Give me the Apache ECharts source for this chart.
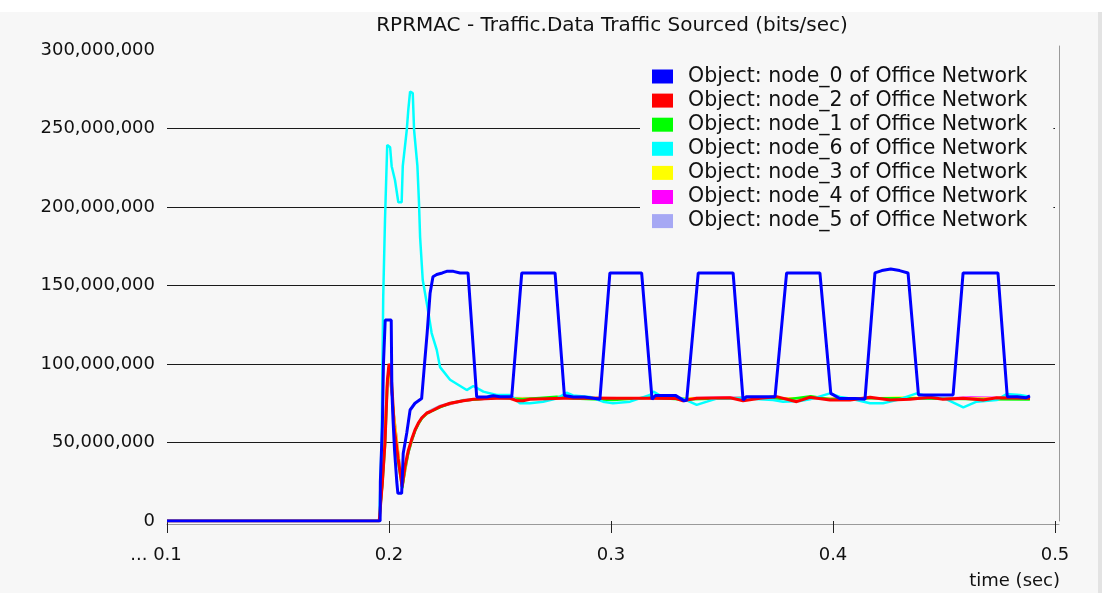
<!DOCTYPE html>
<html>
<head>
<meta charset="utf-8">
<title>RPRMAC - Traffic.Data Traffic Sourced</title>
<script src="https://cdn.jsdelivr.net/npm/echarts@6/dist/echarts.min.js"></script>
<style>
  html, body { margin: 0; padding: 0; background: #f7f7f7; }
  #chart { width: 1102px; height: 593px; }
</style>
</head>
<body>
<div id="chart"></div>
<script>
// Data Traffic Sourced per node, [time (s), Mbit/s]
const node0 = [
  [0.1000, 0], [0.1960, 0], [0.1961, 25], [0.1968, 25], [0.1970, 60], [0.1975, 100],
  [0.1983, 128], [0.2010, 128], [0.2013, 83], [0.2018, 65], [0.2025, 45], [0.2035, 25],
  [0.2040, 17.6], [0.2057, 17.6], [0.2064, 43], [0.2080, 56], [0.2095, 70.7], [0.2117, 75],
  [0.2147, 78], [0.2160, 100], [0.2172, 120], [0.2185, 145], [0.2198, 155.6], [0.2215, 157],
  [0.2240, 158], [0.2260, 159], [0.2290, 159], [0.2320, 158], [0.2356, 158], [0.2395, 79],
  [0.2440, 79], [0.2470, 79.8], [0.2500, 79.2], [0.2553, 79.2], [0.2598, 158], [0.2748, 158],
  [0.2790, 80], [0.2830, 79], [0.2880, 79], [0.2930, 78], [0.2950, 77.5], [0.2995, 158],
  [0.3138, 158], [0.3185, 77.5], [0.3200, 80], [0.3290, 80], [0.3330, 76.5], [0.3341, 77],
  [0.3393, 158], [0.3550, 158], [0.3595, 77], [0.3610, 79.2], [0.3739, 79.2], [0.3791, 158],
  [0.3941, 158], [0.3990, 81.3], [0.4030, 78], [0.4100, 78], [0.4144, 77.5], [0.4189, 158],
  [0.4220, 159.5], [0.4260, 160.5], [0.4300, 159.5], [0.4338, 158], [0.4385, 80.3], [0.4541, 80.3],
  [0.4586, 158], [0.4743, 158], [0.4785, 79.2], [0.4830, 79.2], [0.4870, 78.5], [0.4887, 79.7]
];
const node2 = [
  [0.1000, 0], [0.1956, 0], [0.1971, 26], [0.1982, 50], [0.1993, 90], [0.2000, 100],
  [0.2007, 98], [0.2016, 79], [0.2023, 60], [0.2041, 40], [0.2059, 22], [0.2072, 35],
  [0.2087, 45], [0.2102, 52], [0.2117, 58], [0.2132, 62.4], [0.2147, 65.6], [0.2170, 68.8],
  [0.2185, 69.6], [0.2230, 72.8], [0.2275, 75], [0.2335, 76.6], [0.2380, 77.5], [0.2485, 78.2],
  [0.2545, 78.2], [0.2577, 76.6], [0.2604, 76.6], [0.2635, 77.5], [0.2784, 78.2], [0.2950, 78.2],
  [0.3176, 78.2], [0.3293, 78], [0.3324, 76.6], [0.3386, 78.2], [0.3536, 78.5], [0.3595, 76.6],
  [0.3671, 78.2], [0.3746, 79.2], [0.3836, 76], [0.3896, 78.8], [0.3986, 77.1], [0.4077, 77.1],
  [0.4167, 78.8], [0.4257, 77.1], [0.4347, 77.5], [0.4437, 78.8], [0.4495, 77.5], [0.4586, 78.2],
  [0.4676, 77.1], [0.4737, 78.5], [0.4887, 78.2]
];
const node1 = [
  [0.1000, 0], [0.1956, 0], [0.1971, 25], [0.1982, 48], [0.1993, 88], [0.2000, 98],
  [0.2008, 96], [0.2016, 78], [0.2023, 58], [0.2041, 38], [0.2060, 21], [0.2073, 34],
  [0.2088, 44], [0.2103, 51.5], [0.2118, 57.5], [0.2133, 62], [0.2148, 65.3], [0.2171, 68.6],
  [0.2232, 72.6], [0.2277, 75], [0.2337, 76.8], [0.2485, 78.6], [0.2600, 77.6], [0.2755, 79.2],
  [0.2830, 78], [0.3010, 77], [0.3176, 78.6], [0.3324, 77.4], [0.3536, 78.2], [0.3671, 78.6],
  [0.3800, 77.5], [0.3900, 79.4], [0.3986, 77.6], [0.4167, 78.2], [0.4347, 78.2], [0.4500, 77.8],
  [0.4676, 77.5], [0.4887, 77.4]
];
const node6 = [
  [0.1000, 0], [0.1956, 0], [0.1962, 26], [0.1967, 52], [0.1974, 143], [0.1982, 192],
  [0.1992, 239.5], [0.2005, 238], [0.2012, 226], [0.2027, 217], [0.2042, 203], [0.2057, 203],
  [0.2062, 226], [0.2080, 249], [0.2087, 262], [0.2095, 273.5], [0.2107, 272.5], [0.2113, 249],
  [0.2128, 226], [0.2135, 203], [0.2140, 181], [0.2152, 153.5], [0.2173, 136.5], [0.2192, 119.7],
  [0.2215, 109], [0.2230, 98], [0.2275, 90], [0.2350, 83.4], [0.2380, 86], [0.2425, 82.4],
  [0.2485, 80.3], [0.2545, 80.3], [0.2590, 75], [0.2635, 75], [0.2694, 76], [0.2755, 78],
  [0.2800, 81.7], [0.2829, 80], [0.2905, 79], [0.2964, 76], [0.3009, 75], [0.3086, 76],
  [0.3176, 80.3], [0.3191, 82.4], [0.3234, 79], [0.3324, 78], [0.3386, 74], [0.3432, 76],
  [0.3476, 78], [0.3536, 78], [0.3595, 78.2], [0.3730, 77], [0.3775, 76], [0.3851, 76.5],
  [0.3896, 77.5], [0.3986, 81.3], [0.4032, 79], [0.4077, 78], [0.4167, 75], [0.4225, 75],
  [0.4287, 77], [0.4377, 81.3], [0.4437, 79], [0.4512, 77.5], [0.4587, 72.4], [0.4647, 76],
  [0.4737, 77], [0.4782, 80.9], [0.4842, 80.3], [0.4887, 79.2]
];
const node3 = [
  [0.1000, 0], [0.1956, 0], [0.1971, 25], [0.1990, 88], [0.2000, 97], [0.2016, 77],
  [0.2060, 21], [0.2088, 44], [0.2118, 57.8], [0.2148, 65.5], [0.2185, 69.8], [0.2232, 73],
  [0.2337, 76.8], [0.2485, 78.4], [0.2700, 78], [0.2900, 78.6], [0.3100, 78], [0.3400, 78.4],
  [0.3700, 78], [0.3896, 78.4], [0.4100, 77.8], [0.4320, 78.8], [0.4500, 78], [0.4700, 78.2],
  [0.4887, 78]
];
const node4 = [
  [0.1000, 0], [0.1956, 0], [0.1971, 24], [0.1990, 86], [0.2000, 96], [0.2016, 76],
  [0.2060, 21], [0.2088, 43.5], [0.2118, 57.5], [0.2148, 65.4], [0.2185, 69.6], [0.2232, 72.8],
  [0.2337, 76.6], [0.2485, 78.3], [0.2700, 78.2], [0.2950, 78.5], [0.3200, 78], [0.3500, 78.6],
  [0.3800, 78.2], [0.4000, 78], [0.4250, 78.4], [0.4450, 77.9], [0.4620, 78.8], [0.4700, 78.6],
  [0.4887, 78.1]
];
const node5 = [
  [0.1000, 0], [0.1956, 0], [0.1971, 24], [0.1990, 85], [0.2000, 95], [0.2016, 76],
  [0.2060, 22], [0.2088, 45], [0.2118, 58.5], [0.2148, 66.2], [0.2185, 70.4], [0.2232, 73.6],
  [0.2337, 77.2], [0.2485, 78.5], [0.2700, 78.3], [0.3000, 78.4], [0.3300, 78.2], [0.3600, 78.4],
  [0.3900, 78.2], [0.4200, 78.4], [0.4500, 78.2], [0.4887, 78.3]
];

const xTickLabels = ['... 0.1', '0.2', '0.3', '0.4', '0.5'];
const yTickLabels = ['0', '50,000,000', '100,000,000', '150,000,000', '200,000,000', '250,000,000', '300,000,000'];

const FONT = 'DejaVu Sans';
const TEXT = '#111111';

// drawing order: first is drawn at the back
const seriesDefs = [
  { name: 'Object: node_5 of Office Network', data: node5, color: '#a6a8f4', width: 2 },
  { name: 'Object: node_4 of Office Network', data: node4, color: '#ff00ff', width: 2 },
  { name: 'Object: node_3 of Office Network', data: node3, color: '#ffff00', width: 2 },
  { name: 'Object: node_1 of Office Network', data: node1, color: '#00ff00', width: 2.5 },
  { name: 'Object: node_6 of Office Network', data: node6, color: '#00ffff', width: 2.5 },
  { name: 'Object: node_2 of Office Network', data: node2, color: '#ff0000', width: 3 },
  { name: 'Object: node_0 of Office Network', data: node0, color: '#0000ff', width: 3 }
];

const legendOrder = [
  'Object: node_0 of Office Network',
  'Object: node_2 of Office Network',
  'Object: node_1 of Office Network',
  'Object: node_6 of Office Network',
  'Object: node_3 of Office Network',
  'Object: node_4 of Office Network',
  'Object: node_5 of Office Network'
];

const chart = echarts.init(document.getElementById('chart'), null, { renderer: 'canvas' });

chart.setOption({
  animation: false,
  backgroundColor: '#f7f7f7',
  textStyle: { fontFamily: FONT },
  title: [
    {
      text: 'RPRMAC - Traffic.Data Traffic Sourced (bits/sec)',
      left: 612, top: 16, textAlign: 'center', padding: 0,
      textStyle: { fontFamily: FONT, fontSize: 20, fontWeight: 'normal', color: TEXT }
    },
    {
      text: 'time (sec)',
      right: 42, top: 572, padding: 0,
      textStyle: { fontFamily: FONT, fontSize: 18, fontWeight: 'normal', color: TEXT }
    }
  ],
  legend: {
    data: legendOrder,
    orient: 'vertical',
    left: 640, top: 61,
    padding: [5, 26, 4, 12],
    itemWidth: 21, itemHeight: 14, itemGap: 3.1,
    icon: 'rect',
    backgroundColor: '#f7f7f7',
    selectedMode: false,
    textStyle: { fontFamily: FONT, fontSize: 20.5, lineHeight: 20.5, color: TEXT, padding: [0, 0, 0, 10] }
  },
  grid: [
    { left: 167, right: 47, top: 50, bottom: 72 },
    { left: 167, right: 43, top: 46, bottom: 72 }
  ],
  xAxis: [
    {
      gridIndex: 0, type: 'value', min: 0.1, max: 0.5, interval: 0.1,
      offset: 7,
      axisLine: { show: false },
      axisTick: { show: true, length: 12, lineStyle: { color: '#222', width: 1 } },
      splitLine: { show: false },
      axisLabel: {
        margin: 18, fontFamily: FONT, fontSize: 18, color: TEXT,
        formatter: (v, i) => i === 0 ? '{first|' + xTickLabels[0] + '}' : xTickLabels[i],
        rich: { first: { fontFamily: FONT, fontSize: 18, color: TEXT, padding: [0, 22, 0, 0] } }
      }
    },
    {
      gridIndex: 1, type: 'value', min: 0, max: 1, offset: 3,
      axisLine: { show: true, onZero: false, lineStyle: { color: '#9a9a9a', width: 1 } },
      axisTick: { show: false }, axisLabel: { show: false }, splitLine: { show: false }
    }
  ],
  yAxis: [
    {
      gridIndex: 0, type: 'value', min: 0, max: 300e6, interval: 50e6,
      axisLine: { show: false }, axisTick: { show: false },
      splitLine: { show: true, showMinLine: false, showMaxLine: false, lineStyle: { color: '#1a1a1a', width: 1 } },
      axisLabel: {
        margin: 12, fontFamily: FONT, fontSize: 18, color: TEXT,
        formatter: (v, i) => yTickLabels[i]
      }
    },
    {
      gridIndex: 1, type: 'value', min: 0, max: 1, position: 'right',
      axisLine: { show: true, onZero: false, lineStyle: { color: '#9a9a9a', width: 1 } },
      axisTick: { show: false }, axisLabel: { show: false }, splitLine: { show: false }
    }
  ],
  graphic: [
    { type: 'rect', left: 0, top: 0, shape: { width: 1102, height: 12 }, style: { fill: '#ffffff' }, silent: true },
    { type: 'rect', left: 1098, top: 12, shape: { width: 4, height: 581 }, style: { fill: '#e3e3e3' }, silent: true }
  ],
  series: seriesDefs.map(s => ({
    name: s.name,
    type: 'line',
    xAxisIndex: 0, yAxisIndex: 0,
    data: s.data.map(p => [p[0], p[1] * 1e6]),
    showSymbol: false,
    symbol: 'none',
    color: s.color,
    lineStyle: { color: s.color, width: s.width },
    silent: true
  }))
});
</script>
</body>
</html>
